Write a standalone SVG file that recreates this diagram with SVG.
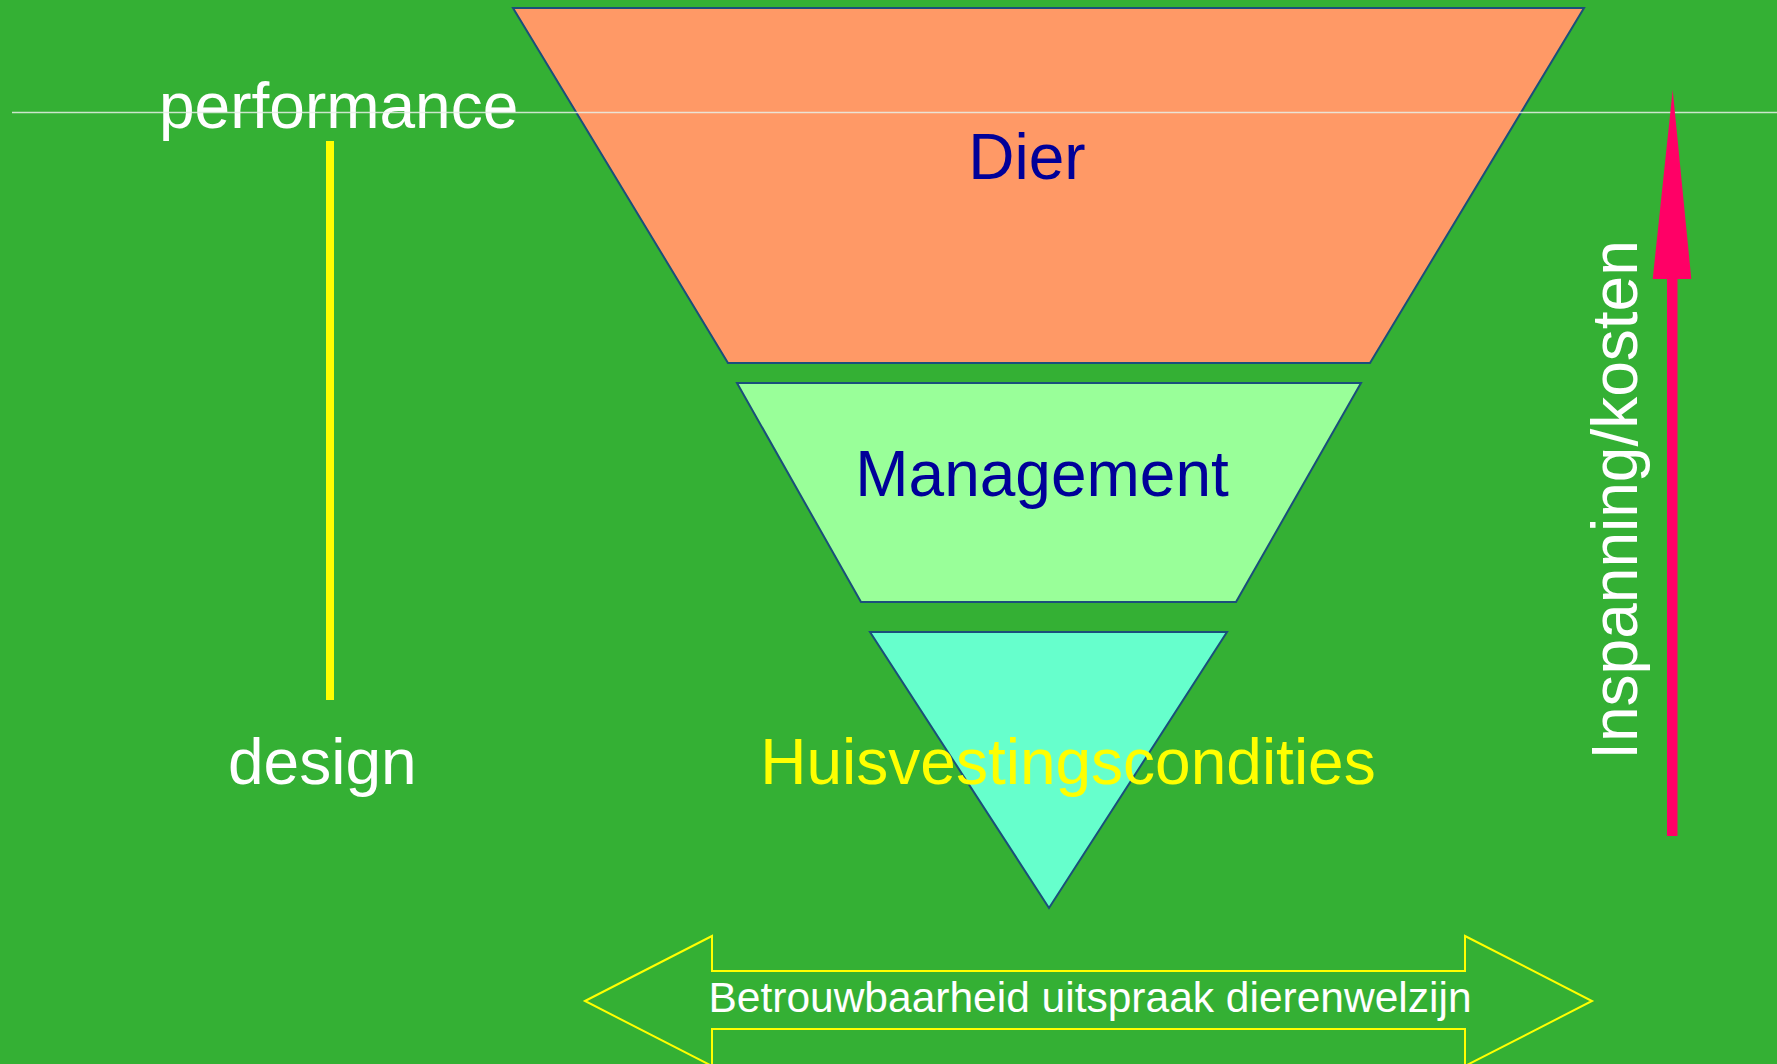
<svg xmlns="http://www.w3.org/2000/svg" width="1777" height="1064" viewBox="0 0 1777 1064">
<style>
.lbl{font-family:"Liberation Sans",Arial,sans-serif;font-size:64px}
.shape{stroke:#1a4f7a;stroke-width:2}
</style>
<rect x="0" y="0" width="1777" height="1064" fill="#34b034"/>
<g id="dier">
<polygon class="shape" points="513,8 1584,8 1370,363 728,363" fill="#ff9966"/>
<text class="lbl" x="1027" y="179" text-anchor="middle" fill="#000099">Dier</text>
</g>
<g id="management">
<polygon class="shape" points="737,383 1361,383 1236,602 861,602" fill="#99ff99"/>
<text class="lbl" x="1042" y="496" text-anchor="middle" fill="#000099">Management</text>
</g>
<g id="huisvesting">
<polygon class="shape" points="870,632 1227,632 1049,908" fill="#66ffcc"/>
<text class="lbl" x="1068" y="784" text-anchor="middle" fill="#ffff00">Huisvestingscondities</text>
</g>
<g id="performance">
<text class="lbl" x="159" y="128" fill="#ffffff">performance</text>
</g>
<g id="performance-line">
<line x1="12" y1="112.5" x2="1777" y2="112.5" stroke="#e8f0e8" stroke-opacity="0.85" stroke-width="1.6"/>
</g>
<g id="design">
<text class="lbl" x="228" y="784" fill="#ffffff">design</text>
</g>
<g id="connectors">
<line x1="330" y1="141" x2="330" y2="700" stroke="#ffff00" stroke-width="8"/>
<rect x="1667" y="278" width="10.5" height="558" fill="#ff0066"/>
<polygon points="1672.7,90 1691.3,279 1652.7,279" fill="#ff0066"/>
</g>
<g id="inspanning">
<text class="lbl" transform="translate(1637,500) rotate(-90)" x="0" y="0" text-anchor="middle" fill="#ffffff">Inspanning/kosten</text>
</g>
<g id="betrouwbaarheid">
<polygon points="585,1001 712,936 712,971 1465,971 1465,936 1592,1001 1465,1066 1465,1029 712,1029 712,1066" fill="none" stroke="#ffff00" stroke-width="2"/>
<text x="1090" y="1012" text-anchor="middle" fill="#ffffff" font-family="Liberation Sans, Arial, sans-serif" font-size="42.5">Betrouwbaarheid uitspraak dierenwelzijn</text>
</g>
</svg>
